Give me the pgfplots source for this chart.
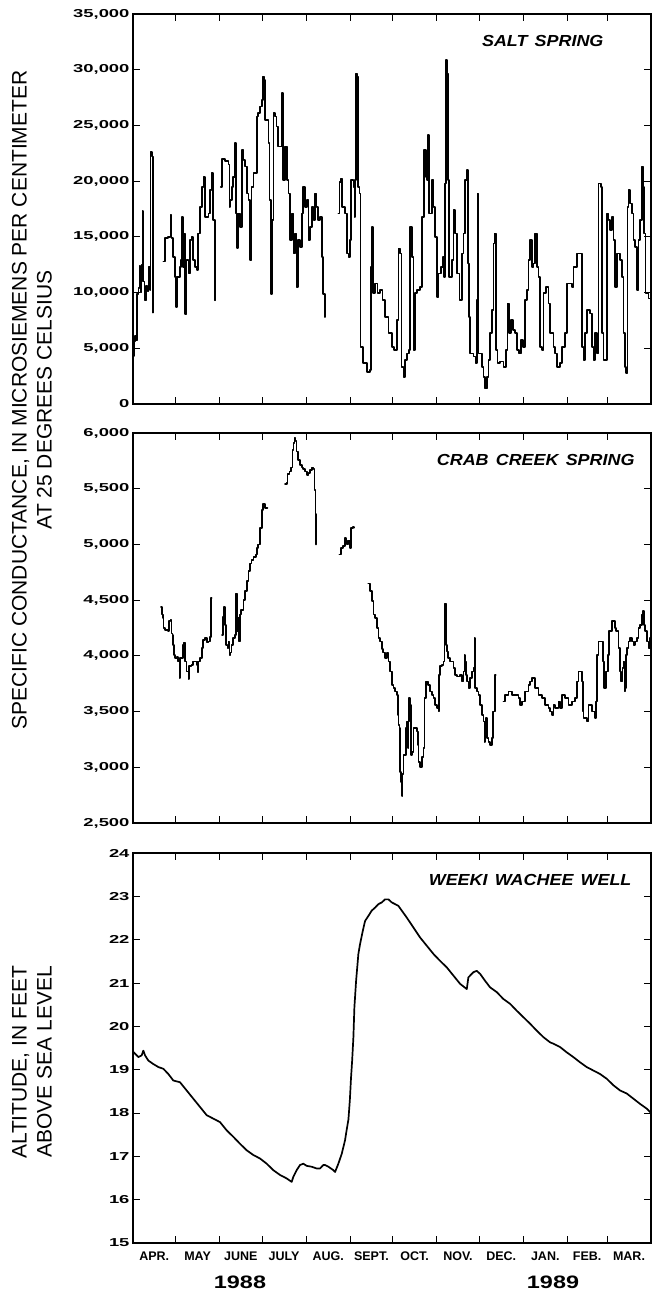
\documentclass[border=0pt]{standalone}
\usepackage{fontspec}
\setmainfont{Liberation Sans}
\newfontfamily\tickfont[FakeStretch=1.6]{Liberation Sans}
\newfontfamily\titlefont[FakeStretch=1.12]{Liberation Sans}
\newfontfamily\yearfont[FakeStretch=1.3]{Liberation Sans}
\usepackage{pgfplots}
\pgfplotsset{compat=1.18}
\pgfplotsset{
 panel/.style={
  scale only axis, width=518pt, height=390pt,
  xmin=0, xmax=365,
  xtick={30,61,91,122,153,183,214,244,275,306,334},
  xticklabels={},
  tick align=inside,
  major tick length=7pt,
  tick style={black, line width=1pt},
  axis line style={line width=1.2pt},
  yticklabel pos=left,
  /pgf/number format/assume math mode=true,
  /pgf/number format/1000 sep={,},
  yticklabel style={font=\tickfont\bfseries\fontsize{11.5}{12}\selectfont},
  scaled y ticks=false,
 },
 data/.style={black, line width=1.7pt, mark=none, line join=round, line cap=round},
 step/.style={data, const plot},
}
\tikzset{ttl/.style={anchor=east, font=\titlefont\bfseries\itshape\fontsize{16}{18}\selectfont, yshift=-27pt}}
\begin{document}
\begin{tikzpicture}
% ---------------- SALT SPRING ----------------
\begin{axis}[panel, at={(133pt,891pt)}, anchor=south west,
  ymin=0, ymax=35000, ytick={0,5000,...,35000}]
\addplot[step] coordinates {(0,4300) (0.6,5600) (1.5,6100) (2.3,5700) (2.8,9900) (3.8,10400) (4.6,12400) (5.2,10000) (6,12500) (6.7,17300) (7.2,11000) (8,10300) (8.6,9300) (9.3,10600) (10.3,10100) (11,12300) (11.8,10200) (12.3,22600) (13.4,22200) (13.9,10400) (14.3,8200)};
\addplot[step] coordinates {(21.4,12800) (22.6,14900) (24.9,15000) (26.5,16950) (27.2,14900) (28.4,13200) (29.6,11400) (30.3,8700) (31.2,11400) (33.1,12300) (33.8,12900) (34.3,16800) (35,12300) (35.9,15300) (36.6,8100) (37.8,12900) (39,11700) (40.2,14700) (41.3,15000) (42.5,12900) (43.7,12300) (44.9,12000) (46,15300) (47.2,17700) (48.4,19500) (49.6,20400) (50.7,16800) (51.9,16800) (53.1,17100) (54.3,19200) (55.4,20700) (56.6,16500) (57.8,9300)};
\addplot[step] coordinates {(61.8,19500) (62.5,22000) (64.8,21800) (67.2,21500) (67.9,17700) (68.4,18300) (69.6,19500) (70.7,20400) (71.9,23400) (72.6,17100) (73.5,14000) (74.2,17100) (75.4,15900) (76.6,22800) (77.8,21900) (78.9,21300) (80.1,18900) (81.3,18300) (82.5,12900) (83.6,19500) (84.8,20700) (86,20700) (87.2,25800) (88.3,26100) (89.5,26700) (90.7,27300) (91.4,29400) (92.3,29100) (93,25500) (94.2,25500) (95.4,23400) (96.1,18300) (97,9900) (97.7,16500) (98.9,26100) (100.1,25800) (101.2,24900) (102.4,23100) (103.6,23100) (104.8,27900) (105.5,23100) (105.9,20100) (107.1,23100) (108.3,20100) (109.5,18900) (110.6,14700) (111.8,17100) (113,13500) (114.2,15300) (115.3,10500) (116.5,14700) (117.7,14100) (118.9,17100) (120,19500) (121.2,17700) (122.4,18300) (123.6,14700) (124.7,15900) (125.9,17700) (127.1,16500) (128.3,18900) (129.4,17700) (130.6,16500) (131.8,16800) (133,13200) (134.1,9900) (135.3,7800)};
\addplot[step] coordinates {(144.7,17100) (145.4,19940) (146.6,20240) (147.3,17700) (149.4,17100) (150.6,13500) (151.8,13200) (152.9,14700) (153.4,20100) (155.3,19500) (156,16800) (156.5,20100) (157.2,29660) (157.9,29400) (158.3,19500) (159.5,18900) (160.2,5140) (162.3,3650) (164.7,2900) (167,3050) (167.5,12300) (168.2,15900) (168.9,9930) (170.6,10800) (172.2,9930) (174.1,10200) (175.7,9330) (177.6,7830) (180,6340) (182.3,5140) (184,4840) (185.8,7530) (187,13960) (188.2,13500) (189.1,3350) (190.5,2450) (191.7,3950) (193.3,4540) (194.5,4840) (195.2,15900) (196.4,13200) (197.6,4840) (198.7,9930) (199.9,10200) (202.3,10500) (203.4,16800) (205.1,22800) (206.5,20400) (207.4,20100) (208.1,24130) (208.8,17100) (210.5,20100) (211.7,17700) (212.8,15000) (214,9630) (215.2,11700) (216.8,12300) (218.2,13200) (219.2,11400) (219.9,19800) (220.6,30860) (221.3,29660) (221.8,20100) (222.7,11400) (224.6,12900) (225.8,17400) (226.9,15300) (228.1,11700) (230,9330) (231.6,13500) (232.8,15300) (234,20100) (235.2,21000) (235.9,12600) (236.6,7830) (237.5,4540) (239.9,4250) (241.3,3650) (242.2,9330) (242.7,18900) (243.4,4540) (245.7,3350) (246.9,2450) (248.1,1400) (249.3,2450) (250.4,3950) (251.6,6340) (252.8,8430) (254,14400) (254.7,15300) (255.6,4840) (256.8,3650) (258.7,3800) (261,3350) (262.9,4840) (263.8,9030) (264.8,6340) (266.2,7530) (267.6,6640) (269,6340) (270.4,4840) (271.8,4540) (273.2,5740) (274.6,5140) (276,9330) (277.4,10200) (278.6,12900) (279.8,14700) (281,12300) (282.1,12600) (283.3,15300) (284.5,12300) (285.7,11400) (286.8,5140) (288,4840) (289.2,9930) (291.1,10500) (292.7,9030) (293.9,6340) (296.2,5140) (297.4,4540) (298.6,3350) (300.9,3650) (302.1,5140) (304.5,6340) (305.6,10800) (309.2,10500) (310.3,12300) (312.7,13500) (315,13500) (316.2,5140) (317.4,3950) (318.6,6340) (319.7,8430) (322.1,8130) (323.2,5140) (324.4,3950) (325.6,6340) (326.8,4540) (328,19800) (329.6,19500) (330.5,6340) (331.5,3950) (332.6,3950) (333.8,17100) (335,16500) (336.2,15600) (337.4,16800) (338.5,14700) (339.7,10500) (340.9,13500) (343.2,12900) (344.4,11400) (345.6,6340) (346.7,3350) (347.4,2750) (348.4,17700) (349.1,19200) (350.3,18000) (351.4,17100) (352.6,14700) (353.8,14100) (355,10200) (356.2,14700) (357.3,16500) (358.5,21300) (359.2,19500) (360.1,15300) (361.1,9930) (363.2,9480) (365,9330)};
\node[ttl] at (rel axis cs:0.915,1) {SALT\hspace{0.45em}SPRING};
\end{axis}
% ---------------- CRAB CREEK SPRING ----------------
\begin{axis}[panel, at={(133pt,472pt)}, anchor=south west,
  ymin=2500, ymax=6000, ytick={2500,3000,...,6000}]
\addplot[step] coordinates {(19.7,4440) (20.2,4370) (20.9,4340) (21.4,4250) (22.6,4235) (24.9,4220) (25.6,4310) (26.5,4320) (27.2,4200) (27.9,4190) (28.4,4100) (29.1,4010) (29.6,3980) (30.8,3990) (31.9,3950) (32.7,3800) (33.1,3980) (34.3,3980) (35,4100) (35.9,4120) (36.6,3950) (37.8,3860) (39,3790) (39.7,3910) (41.3,3920) (42.5,3950) (43.7,3950) (44.9,3920) (45.6,3850) (46,3950) (47.2,3980) (48.4,4070) (49.1,4140) (50.7,4160) (51.9,4120) (53.1,4130) (54.3,4170) (55,4520) (55.4,4520)};
\addplot[step] coordinates {(62.7,4190) (63.2,4350) (64.1,4440) (64.8,4280) (65.5,4100) (66.5,4070) (67.2,4130) (67.9,4010) (68.8,4030) (69.5,4100) (70.7,4160) (71.9,4190) (72.6,4560) (73.1,4220) (74.2,4340) (74.9,4130) (75.4,4370) (76.1,4410) (77.8,4500) (78.9,4580) (80.1,4670) (81.3,4760) (82.5,4830) (83.6,4860) (84.8,4890) (86.7,4910) (87.6,4970) (88.3,5000) (89.5,5150) (90.7,5310) (91.4,5360) (93,5330) (94.7,5330)};
\addplot[step] coordinates {(107.1,5540) (108.3,5555) (108.8,5630) (110.2,5655) (111.1,5690) (111.8,5690) (112.3,5850) (113,5910) (113.7,5955) (114.4,5925) (115.3,5835) (116.5,5760) (117.7,5715) (118.9,5690) (120,5675) (121.2,5655) (122.4,5625) (123.6,5640) (124.7,5670) (125.9,5690) (127.1,5675) (127.8,5490) (128.5,5270) (129,5000)};
\addplot[step] coordinates {(145.4,4910) (146.4,4970) (148.2,4985) (149.4,5060) (150.1,5030) (151,5000) (151.7,5030) (152.9,4970) (153.4,5150) (154.8,5155) (155.7,5150)};
\addplot[step] coordinates {(165.8,4650) (167,4580) (168.2,4490) (169.4,4370) (170.5,4340) (171.7,4250) (172.9,4160) (174.1,4130) (175.3,4060) (176.4,4030) (177.6,3980) (178.8,4025) (180,3950) (181.1,3860) (182.3,3740) (183.5,3710) (184.6,3680) (185.8,3650) (186.5,3470) (187,3380) (187.7,3350) (188.2,2960) (188.9,2870) (189.3,2740) (189.8,2940) (190.5,3110) (191.7,3110) (192.4,3350) (193.1,3410) (193.6,3170) (194.1,3410) (194.5,3620) (195.2,3560) (195.7,3110) (196.4,3140) (197.6,3350) (198.7,3350) (199.9,3320) (200.6,3200) (201.1,3050) (202.3,3000) (203.4,3090) (204.6,3170) (205.3,3620) (206.3,3770) (207.7,3740) (209.3,3680) (210.5,3650) (211.7,3620) (212.8,3560) (214,3530) (215.2,3500) (215.7,3830) (216.4,3910) (217.5,3920) (218.7,3950) (219.4,4190) (219.9,4470) (220.4,4100) (221.1,4040) (222.2,3980) (223.4,3950) (224.6,3950) (225.8,3890) (226.9,3830) (228.1,3815) (229.3,3815) (230.5,3830) (231.6,3770) (232.8,3860) (233.5,4010) (234,3950) (234.4,3830) (235.2,3770) (236.3,3710) (237.5,3800) (238.7,3860) (239.9,3890) (240.6,4160) (241,3710) (242.2,3680) (243.4,3650) (244.5,3560) (245.7,3470) (246.9,3410) (247.6,3230) (248.1,3410) (248.8,3440) (249.2,3260) (250.4,3230) (251.6,3200) (252.8,3260) (253.9,3500) (255.1,3830) (255.6,3830)};
\addplot[step] coordinates {(261,3590) (262.2,3650) (264.5,3680) (266.9,3650) (269.2,3650) (271.6,3620) (272.7,3560) (273.9,3590) (276.3,3680) (278.6,3740) (279.8,3770) (281,3800) (283.3,3710) (285.7,3650) (288,3620) (290.4,3560) (292.7,3530) (293.9,3500) (295.1,3470) (296.2,3560) (297.4,3530) (299.8,3590) (300.9,3530) (302.1,3650) (304.5,3620) (306.8,3560) (309.2,3590) (311.5,3620) (312.7,3770) (313.9,3860) (316.2,3770) (316.9,3500) (317.4,3440) (319.7,3410) (320.9,3560) (323.2,3500) (325.6,3440) (326.3,3590) (327,4010) (328,4130) (330.3,4130) (331,3950) (331.7,3710) (332.6,3710) (333.3,3860) (334.5,4010) (335.5,4220) (337.3,4310) (339.7,4250) (340.4,4220) (342,4070) (343.2,3860) (343.9,3770) (344.9,3890) (345.6,3950) (346.3,3680) (346.7,3710) (347.2,4010) (347.9,4070) (349.1,4130) (350.2,4160) (351.4,4130) (352.6,4100) (353.8,4130) (354.9,4160) (356.1,4250) (357.3,4280) (358.5,4370) (359.2,4400) (360.1,4280) (360.8,4220) (362,4130) (363.2,4070) (364.4,4160) (365.5,4130)};
\node[ttl] at (rel axis cs:0.975,1) {CRAB\hspace{0.45em}CREEK\hspace{0.45em}SPRING};
\end{axis}
% ---------------- WEEKI WACHEE WELL ----------------
\begin{axis}[panel, at={(133pt,52pt)}, anchor=south west,
  ymin=15, ymax=24, ytick={15,16,...,24},
  extra x ticks={15,45.5,76,106.5,137.5,168,198.5,229,259.5,290.5,320,349.5},
  extra x tick labels={APR.,MAY,JUNE,JULY,AUG.,SEPT.,OCT.,NOV.,DEC.,JAN.,FEB.,MAR.},
  extra x tick style={major tick length=0pt, tick style={draw=none},
    xticklabel style={font=\bfseries\fontsize{12.5}{14}\selectfont, yshift=-5pt}}]
\addplot[data] coordinates {(0,19.42) (1.4,19.37) (3.8,19.29) (6.1,19.33) (7.3,19.44) (8.5,19.33) (10.8,19.21) (14.3,19.13) (17.9,19.06) (21.4,19.02) (24.9,18.9) (28.4,18.75) (33.1,18.71) (37.8,18.52) (42.5,18.33) (47.2,18.14) (51.9,17.95) (56.6,17.87) (61.3,17.79) (66,17.6) (70.7,17.45) (75.4,17.29) (80.1,17.14) (84.8,17.03) (89.5,16.95) (94.2,16.83) (98.9,16.68) (103.6,16.57) (108.3,16.49) (111.8,16.41) (113,16.53) (115.3,16.68) (117.7,16.8) (120,16.83) (122.4,16.78) (125.9,16.76) (129.4,16.72) (131.8,16.72) (134.1,16.8) (135.3,16.8) (137.7,16.76) (141.2,16.68) (142.4,16.64) (144.7,16.83) (147.1,17.06) (149.4,17.37) (150.6,17.62) (151.8,17.85) (152.8,18.3) (153.6,18.8) (154.4,19.2) (155.3,19.75) (156,20.44) (157.2,21.05) (158.8,21.67) (160,21.9) (161.9,22.2) (163.5,22.43) (165.9,22.55) (168.2,22.67) (170.6,22.74) (172.9,22.82) (175.3,22.86) (177.6,22.93) (180,22.93) (182.3,22.86) (184.7,22.82) (187,22.78) (189.4,22.67) (192.9,22.51) (197.6,22.28) (202.3,22.05) (207,21.86) (211.7,21.67) (216.4,21.51) (221.1,21.36) (225.8,21.17) (230.5,20.98) (235.2,20.86) (236.3,21.13) (237.5,21.17) (239.9,21.25) (242.2,21.28) (244.6,21.21) (248.1,21.05) (251.6,20.9) (256.3,20.79) (261,20.63) (265.7,20.52) (270.4,20.36) (275.1,20.21) (279.8,20.06) (284.5,19.9) (289.2,19.75) (293.9,19.63) (296.2,19.6) (301,19.52) (305.6,19.4) (310.3,19.29) (315,19.17) (319.7,19.06) (324.4,18.98) (329.1,18.9) (333.8,18.79) (338.5,18.64) (343.2,18.52) (347.9,18.45) (352.6,18.33) (357.3,18.21) (362,18.1) (365,18.0)};
\node[ttl] at (rel axis cs:0.969,1) {WEEKI\hspace{0.45em}WACHEE\hspace{0.45em}WELL};
\end{axis}
% ---------------- axis titles and years ----------------
\node[rotate=90, align=center, font=\fontsize{21}{25}\selectfont] at (32pt,895pt)
  {SPECIFIC CONDUCTANCE, IN MICROSIEMENS PER CENTIMETER\\AT 25 DEGREES CELSIUS};
\node[rotate=90, align=center, font=\fontsize{21}{25}\selectfont] at (32pt,233pt)
  {ALTITUDE, IN FEET\\ABOVE SEA LEVEL};
\node[font=\yearfont\bfseries\fontsize{18}{20}\selectfont] at (240pt,13pt) {1988};
\node[font=\yearfont\bfseries\fontsize{18}{20}\selectfont] at (553pt,13pt) {1989};
\pgfresetboundingbox
\path[use as bounding box] (0,0) rectangle (652pt,1295pt);
\end{tikzpicture}
\end{document}
